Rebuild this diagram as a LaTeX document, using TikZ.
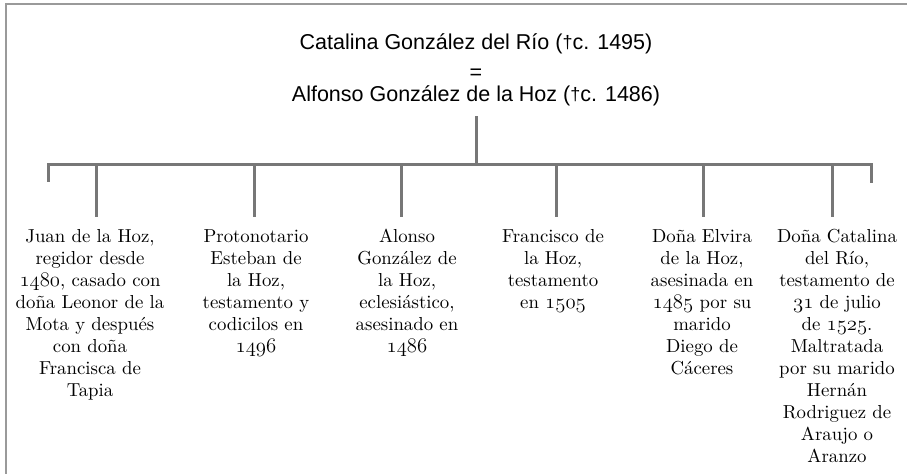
\documentclass[tikz,border=0pt]{standalone}
\usepackage{fontspec}
\newfontfamily\titlefont{Liberation Sans}
\newfontfamily\childfont{lmroman10-regular.otf}
\newcommand\osn[1]{{\fontsize{21.5}{22}\usefont{OML}{cmm}{m}{it}#1}}
\newcommand\crossmark{\raisebox{0.3pt}{\fontsize{18}{18}\selectfont †}}
\definecolor{framecol}{HTML}{9A9A9A}
\definecolor{linecol}{HTML}{777777}
\begin{document}
\begin{tikzpicture}[x=1pt,y=-1pt,
  titletext/.style={font=\titlefont\fontsize{21.5}{26}\selectfont, inner sep=0pt, anchor=base},
  child/.style={font=\childfont\fontsize{18.8}{22}\selectfont, align=center, inner sep=0pt, anchor=north},
  tree/.style={draw=linecol, line width=3pt},
  frameline/.style={draw=framecol, line width=2pt}]
\useasboundingbox (0,0) rectangle (907,474);
\draw[frameline] (907,4) -- (6,4) -- (6,474);

\node[titletext] (t1) at (476,49) {Catalina González del Río (\crossmark c. 1495)};
\node[titletext] (t2) at (476,79) {=};
\node[titletext] (t3) at (476,101) {Alfonso González de la Hoz (\crossmark c. 1486)};

\coordinate (stemtop) at (476,116);
\coordinate (bar) at (476,164);
\coordinate (barL) at (48,164);
\coordinate (barR) at (871,164);
\coordinate (endL) at (48,180);
\coordinate (endR) at (871,181);
\draw[tree] (stemtop) -- (bar);
\draw[tree, line cap=rect] (endL) -- (barL) -- (barR) -- (endR);

\coordinate (d1) at (96,164);
\coordinate (d2) at (254,164);
\coordinate (d3) at (401,164);
\coordinate (d4) at (556,164);
\coordinate (d5) at (703,164);
\coordinate (d6) at (832,164);
\coordinate (e1) at (96,217);
\coordinate (e2) at (254,217);
\coordinate (e3) at (401,217);
\coordinate (e4) at (556,217);
\coordinate (e5) at (703,217);
\coordinate (e6) at (832,217);
\foreach \i in {1,...,6} {\draw[tree] (d\i) -- (e\i);}

\node[child] (c1) at (90,229) {Juan de la Hoz,\\regidor desde\\\osn{1480}, casado con\\doña Leonor de la\\Mota y después\\con doña\\Francisca de\\Tapia};
\node[child] (c2) at (256,229) {Protonotario\\Esteban de\\la Hoz,\\testamento y\\codicilos en\\\osn{1496}};
\node[child] (c3) at (407,229) {Alonso\\González de\\la Hoz,\\eclesiástico,\\asesinado en\\\osn{1486}};
\node[child] (c4) at (553,229) {Francisco de\\la Hoz,\\testamento\\en \osn{1505}};
\node[child] (c5) at (702,229) {Doña Elvira\\de la Hoz,\\asesinada en\\\osn{1485} por su\\marido\\Diego de\\Cáceres};
\node[child] (c6) at (837,229) {Doña Catalina\\del Río,\\testamento de\\\osn{31} de julio\\de \osn{1525}.\\Maltratada\\por su marido\\Hernán\\Rodriguez de\\Araujo o\\Aranzo};
\end{tikzpicture}
\end{document}
